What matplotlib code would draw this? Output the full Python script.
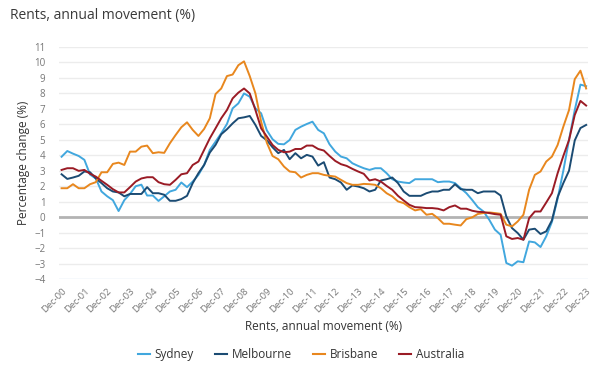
import numpy as np
import matplotlib.pyplot as plt
from matplotlib.lines import Line2D

plt.rcParams['font.family'] = ['Open Sans', 'DejaVu Sans']

# quarterly, Dec-00 .. Dec-23
sydney = [3.9, 4.27, 4.1, 3.95, 3.7, 2.75, 2.5, 1.66, 1.35, 1.1,
          0.4, 1.1, 1.5, 2.0, 2.1, 1.4, 1.4, 1.05, 1.35, 1.66,
          1.77, 2.24, 1.94, 2.3, 2.73, 3.37, 4.34, 4.87, 5.41, 6.01,
          7.02, 7.34, 7.98, 7.77, 7.02, 6.7, 5.6, 5.03, 4.73, 4.7,
          4.98, 5.63, 5.84, 6.01, 6.16, 5.63, 5.41, 4.7, 4.23, 3.91,
          3.8, 3.48, 3.31, 3.16, 3.05, 3.16, 3.16, 2.84, 2.45, 2.3,
          2.24, 2.2, 2.45, 2.45, 2.45, 2.45, 2.26, 2.3, 2.3, 2.2,
          1.87, 1.55, 1.12, 0.65, 0.37, -0.16, -0.8, -1.13, -2.95, -3.12,
          -2.84, -2.9, -1.56, -1.62, -1.92, -1.23, -0.3, 1.2, 3.0, 5.0,
          6.9, 8.55, 8.45]
melbourne = [2.77, 2.47, 2.56, 2.67, 2.95, 2.9, 2.5, 2.2, 1.87, 1.66,
             1.6, 1.35, 1.5, 1.5, 1.5, 1.94, 1.55, 1.55, 1.45, 1.06,
             1.06, 1.17, 1.38, 2.2, 2.84, 3.37, 4.17, 4.66, 5.35, 5.67,
             6.05, 6.38, 6.44, 6.53, 5.95, 5.24, 4.96, 4.51, 4.13, 4.34,
             3.74, 4.13, 3.8, 4.02, 3.91, 3.33, 3.55, 2.56, 2.45, 2.24,
             1.77, 2.05, 1.98, 1.87, 1.66, 1.77, 2.37, 2.45, 2.56, 2.2,
             1.66, 1.38, 1.38, 1.38, 1.55, 1.66, 1.66, 1.77, 1.77, 2.13,
             1.81, 1.77, 1.77, 1.55, 1.66, 1.66, 1.66, 1.4, 0.05, -0.7,
             -1.02, -1.45, -0.8, -0.74, -1.08, -0.91, -0.2, 1.3, 2.2, 3.0,
             4.95, 5.75, 5.95]
brisbane = [1.87, 1.87, 2.13, 1.87, 1.87, 2.13, 2.26, 2.9, 2.9, 3.44,
            3.52, 3.37, 4.23, 4.23, 4.55, 4.62, 4.13, 4.19, 4.15, 4.77,
            5.3, 5.8, 6.12, 5.63, 5.24, 5.69, 6.38, 7.94, 8.3, 9.1,
            9.2, 9.8, 10.05, 9.1, 7.98, 6.16, 4.8, 3.95, 3.74, 3.27,
            2.95, 2.9, 2.56, 2.73, 2.84, 2.84, 2.73, 2.67, 2.62, 2.41,
            2.2, 2.09, 2.09, 2.15, 2.13, 2.09, 1.87, 1.55, 1.34, 1.02,
            0.91, 0.65, 0.44, 0.52, 0.16, 0.22, -0.06, -0.42, -0.42, -0.48,
            -0.53, -0.12, -0.01, 0.21, 0.27, 0.31, 0.27, 0.22, -0.48, -0.59,
            -0.27, 0.16, 1.77, 2.73, 2.95, 3.59, 3.91, 4.66, 5.84, 6.91,
            8.9, 9.45, 8.3]
australia = [3.05, 3.16, 3.16, 2.99, 3.05, 2.8, 2.62, 2.35, 2.09, 1.81,
             1.6, 1.6, 1.94, 2.3, 2.5, 2.58, 2.58, 2.26, 2.13, 2.09,
             2.41, 2.77, 2.84, 3.37, 3.59, 4.34, 5.09, 5.73, 6.38, 6.91,
             7.66, 8.03, 8.3, 7.98, 6.91, 5.73, 5.2, 4.66, 4.34, 4.19,
             4.23, 4.4, 4.4, 4.62, 4.62, 4.4, 4.3, 3.95, 3.63, 3.42,
             3.31, 3.12, 2.95, 2.8, 2.37, 2.45, 2.3, 2.02, 1.77, 1.38,
             1.08, 0.8, 0.65, 0.63, 0.59, 0.59, 0.55, 0.44, 0.65, 0.76,
             0.55, 0.55, 0.42, 0.35, 0.33, 0.27, 0.2, 0.16, -1.23, -1.4,
             -1.34, -1.45, -0.06, 0.37, 0.37, 0.95, 1.55, 2.84, 3.95, 4.98,
             6.59, 7.5, 7.2]
tick_labels = ['Dec-%02d' % y for y in range(0, 24)]

series = [('Sydney', sydney, '#41a7de'),
          ('Melbourne', melbourne, '#1b4b73'),
          ('Brisbane', brisbane, '#e8871e'),
          ('Australia', australia, '#9a1b25')]

fig = plt.figure(figsize=(6.02, 3.67), dpi=100)
ax = fig.add_axes([0.0985, 0.239, 0.878, 0.634])

x = np.arange(len(sydney))
for y in range(-3, 12):
    if y != 0:
        ax.axhline(y, color='#ececec', lw=1, zorder=0)
ax.axhline(0, color='#b3b3b3', lw=2, zorder=1)
ax.axhline(-4, color='#d6e2f0', lw=1, zorder=1)

for name, vals, col in series:
    ax.plot(x, vals, color=col, lw=1.4, label=name, zorder=3)

ax.set_xlim(-0.4, 92.3)
ax.set_ylim(-4, 11)
ax.set_yticks(range(-4, 12))
ax.set_xticks(range(0, 93, 4))
ax.set_xticklabels(tick_labels, rotation=45, ha='right', va='top',
                   rotation_mode='anchor')
ax.tick_params(axis='both', length=0, labelsize=7, colors='#777777')
ax.tick_params(axis='x', labelsize=6.8)
ax.tick_params(axis='y', pad=10)
ax.tick_params(axis='x', pad=5)
for s in ax.spines.values():
    s.set_visible(False)

ax.set_ylabel('Percentage change (%)', fontsize=8.5, color='#333333', labelpad=3)
ax.set_xlabel('Rents, annual movement (%)', fontsize=8.5, color='#333333', labelpad=4)

fig.text(0.017, 0.957, 'Rents, annual movement (%)', fontsize=10,
         color='#3a3a3a', va='center', ha='left')

handles = [Line2D([0], [0], color=c, lw=1.5) for _, _, c in series]
fig.legend(handles, [n for n, _, _ in series], loc='center',
           bbox_to_anchor=(0.5, 0.035), ncol=4, frameon=False, fontsize=8.5,
           handlelength=1.0, handletextpad=0.4, columnspacing=1.8,
           labelcolor='#333333')

fig.savefig('out.png', dpi=100)
